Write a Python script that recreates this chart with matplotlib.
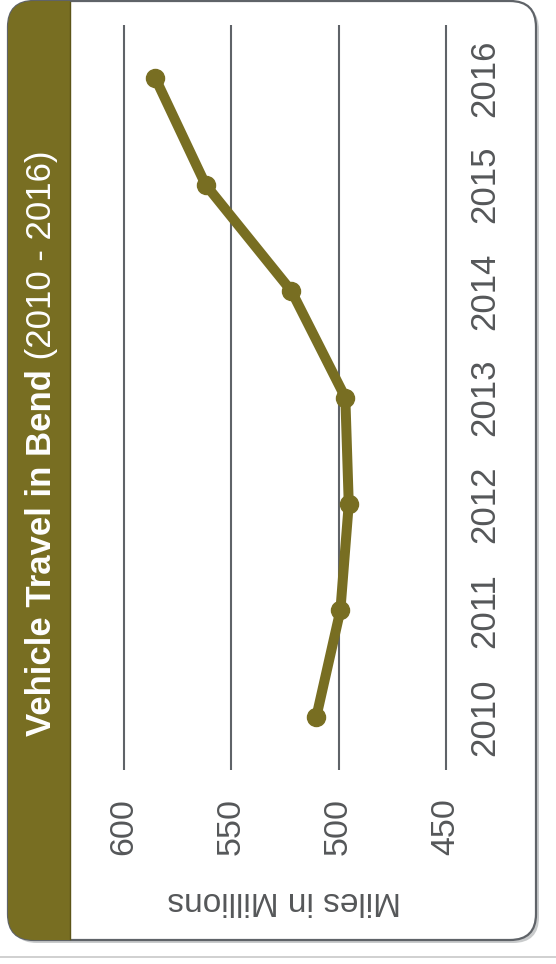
import matplotlib
matplotlib.use("Agg")
from matplotlib import pyplot as plt
from matplotlib.patches import FancyBboxPatch, Rectangle

plt.rcParams['font.family'] = ['Liberation Sans', 'DejaVu Sans']

# data
years = [2010, 2011, 2012, 2013, 2014, 2015, 2016]
miles = [510.4, 499.2, 495.3, 496.9, 522.0, 562.0, 585.4]
value_ticks = [600, 550, 500, 450]
title_bold = "Vehicle Travel in Bend"
title_rest = " (2010 - 2016)"
value_label = "Miles in Millions"

olive = "#786e22"
grid_col = "#5f6368"
text_col = "#555759"

W, H = 556, 964
fig = plt.figure(figsize=(W / 100, H / 100), dpi=100)

# background layer in pixel coordinates (card + title band)
bg = fig.add_axes([0, 0, 1, 1])
bg.set_xlim(0, W)
bg.set_ylim(H, 0)
bg.axis("off")

shadow = FancyBboxPatch((11, 4), 528, 939, boxstyle="round,pad=0,rounding_size=26",
                        facecolor="#c9cbcc", edgecolor="none")
bg.add_patch(shadow)
card = FancyBboxPatch((8, 1), 528, 939, boxstyle="round,pad=0,rounding_size=26",
                      facecolor="white", edgecolor=grid_col, linewidth=1.6, zorder=2)
bg.add_patch(card)
band = Rectangle((8, 0), 62, 942, facecolor=olive, edgecolor="none", zorder=3)
band.set_clip_path(card)
bg.add_patch(band)
bg.plot([70, 70], [2, 939], color="#5c5418", lw=1, zorder=3)
bg.plot([0, W], [957, 957], color="#c8c8c8", lw=1.2)

# rotated chart: values run along x (inverted), years along y
ax = fig.add_axes([119.7 / W, 1 - 770 / H, 330.6 / W, 745 / H])
ax.patch.set_alpha(0)
ax.plot(miles, years, color=olive, lw=7.2, marker="o", markersize=13,
        solid_capstyle="round", zorder=3)
ax.set_xlim(602, 448)
ax.set_ylim(2009.5, 2016.5)
ax.set_xticks(value_ticks)
ax.set_xticklabels([str(v) for v in value_ticks], rotation=90)
ax.set_yticks(years)
ax.set_yticklabels([str(y) for y in years], rotation=90, va="center")
ax.yaxis.tick_right()
ax.tick_params(axis="x", length=0, pad=20, labelsize=24.5, labelcolor=text_col)
ax.tick_params(axis="y", length=0, pad=13, labelsize=25, labelcolor=text_col)
ax.grid(axis="x", color=grid_col, lw=1.5)
ax.grid(axis="y", visible=False)
for s in ax.spines.values():
    s.set_visible(False)

fig.text(284 / W, 1 - 901 / H, value_label, rotation=180, ha="center", va="center",
         fontsize=24, color=text_col)

t1 = fig.text(42 / W, 1 - 736 / H, title_bold, rotation=90, ha="center", va="bottom",
              fontsize=25, fontweight="bold", color="white")
bg.annotate(title_rest, xy=(0.5, 1), xycoords=t1, rotation=90, ha="center", va="bottom",
            fontsize=25, color="white")

plt.savefig("out.png", dpi=100)
